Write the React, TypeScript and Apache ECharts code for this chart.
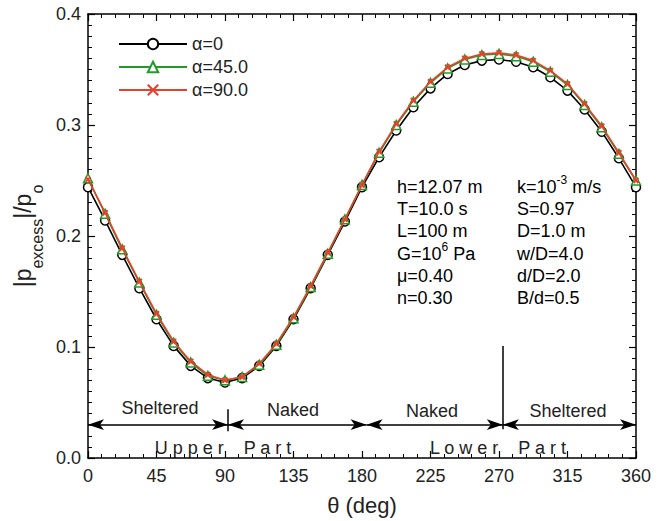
import React, { useEffect, useRef } from "react";
import * as echarts from "echarts";

const theta = [0, 11.25, 22.5, 33.75, 45, 56.25, 67.5, 78.75, 90, 101.25, 112.5, 123.75, 135, 146.25, 157.5, 168.75, 180, 191.25, 202.5, 213.75, 225, 236.25, 247.5, 258.75, 270, 281.25, 292.5, 303.75, 315, 326.25, 337.5, 348.75, 360];

const alpha0 = [0.244, 0.214, 0.183, 0.153, 0.125, 0.101, 0.083, 0.072, 0.068, 0.072, 0.083, 0.101, 0.125, 0.153, 0.183, 0.213, 0.244, 0.271, 0.295, 0.316, 0.333, 0.346, 0.354, 0.358, 0.359, 0.357, 0.352, 0.343, 0.331, 0.314, 0.294, 0.270, 0.244];
const alpha45 = [0.252, 0.220, 0.188, 0.158, 0.129, 0.104, 0.086, 0.074, 0.070, 0.073, 0.084, 0.102, 0.126, 0.154, 0.184, 0.215, 0.246, 0.275, 0.300, 0.321, 0.338, 0.351, 0.359, 0.363, 0.364, 0.362, 0.357, 0.348, 0.336, 0.318, 0.298, 0.274, 0.250];
const alpha90 = [0.251, 0.221, 0.189, 0.159, 0.130, 0.105, 0.087, 0.075, 0.070, 0.073, 0.085, 0.103, 0.127, 0.155, 0.185, 0.215, 0.246, 0.276, 0.301, 0.322, 0.339, 0.352, 0.360, 0.364, 0.365, 0.363, 0.358, 0.349, 0.337, 0.319, 0.299, 0.275, 0.250];

const seriesNames = ["α=0", "α=45.0", "α=90.0"];
const xTicks = { min: 0, max: 360, interval: 45 };
const yTicks = { min: 0, max: 0.4, interval: 0.1 };

// annotation arrows (theta ranges at level y=0.03)
const arrowLevel = 0.03;
const arrowRanges = [[0, 92], [92, 183], [183, 272.5], [272.5, 360]];
const dividers = [[92, 0.024, 0.044], [272.5, 0.026, 0.101]];

const paramsLeft = ["{a|h=12.07 m}", "{a|T=10.0 s}", "{a|L=100 m}", "{a|G=10}{p|6}{a| Pa}", "{a|μ=0.40}", "{a|n=0.30}"];
const paramsRight = ["{a|k=10}{p|-3}{a| m/s}", "{a|S=0.97}", "{a|D=1.0 m}", "{a|w/D=4.0}", "{a|d/D=2.0}", "{a|B/d=0.5}"];

const FONT = "'Liberation Sans', Arial, Helvetica, sans-serif";

export default function App() {
  const ref = useRef<HTMLDivElement>(null);
  useEffect(() => {
    if (!ref.current) return;
    const chart = echarts.init(ref.current, null, { renderer: "svg" });
    const axisCommon = {
      type: "value" as const,
      axisLine: { show: true, onZero: false, lineStyle: { color: "#000", width: 1.5 } },
      axisTick: { show: true, inside: true, length: 7, lineStyle: { color: "#000", width: 1.2 } },
      minorTick: { show: true, length: 4, lineStyle: { color: "#000", width: 1 } },
      splitLine: { show: false },
      minorSplitLine: { show: false },
    };
    const rich = {
      a: { fontSize: 18, fontFamily: FONT, color: "#222", lineHeight: 22, verticalAlign: "bottom" },
      p: { fontSize: 12, fontFamily: FONT, color: "#222", lineHeight: 22, verticalAlign: "top" },
    };
    const graphics: any[] = [];
    const ys = [185, 207, 229, 252, 274, 296];
    paramsLeft.forEach((t, i) => {
      graphics.push({ type: "text", x: 397, y: ys[i], silent: true, style: { text: t, rich, verticalAlign: "middle", align: "left" } });
    });
    paramsRight.forEach((t, i) => {
      graphics.push({ type: "text", x: 517, y: ys[i], silent: true, style: { text: t, rich, verticalAlign: "middle", align: "left" } });
    });
    const labels: [string, number, number][] = [
      ["Sheltered", 160, 408],
      ["Naked", 293, 410],
      ["Naked", 432, 411],
      ["Sheltered", 568, 411],
      ["U p p e r    P a r t", 223, 448],
      ["L o w e r    P a r t", 498, 448],
    ];
    labels.forEach(([t, x, y]) => {
      graphics.push({ type: "text", x, y, silent: true, style: { text: t, fontSize: 18, fontFamily: FONT, fill: "#222", align: "center", verticalAlign: "middle" } });
    });

    chart.setOption({
      animation: false,
      textStyle: { fontFamily: FONT },
      grid: { left: 88, right: 25, top: 14, bottom: 60, containLabel: false },
      legend: {
        data: seriesNames,
        orient: "vertical",
        left: 113,
        top: 30,
        itemWidth: 68,
        itemHeight: 13,
        itemGap: 5,
        textStyle: { fontSize: 18, color: "#222", fontFamily: FONT },
        selectedMode: false,
      },
      xAxis: [
        {
          ...axisCommon,
          position: "bottom",
          ...xTicks,
          minorTick: { ...axisCommon.minorTick, splitNumber: 5 },
          axisLabel: { fontSize: 18, color: "#222", margin: 9, fontFamily: FONT },
          name: "θ (deg)",
          nameLocation: "middle",
          nameGap: 36,
          nameTextStyle: { fontSize: 22, color: "#222", fontFamily: FONT },
        },
        {
          ...axisCommon,
          position: "top",
          ...xTicks,
          minorTick: { ...axisCommon.minorTick, splitNumber: 5 },
          axisLabel: { show: false },
        },
      ],
      yAxis: [
        {
          ...axisCommon,
          position: "left",
          ...yTicks,
          minorTick: { ...axisCommon.minorTick, splitNumber: 10 },
          axisLabel: { fontSize: 18, color: "#222", margin: 7, fontFamily: FONT, formatter: (v: number) => v.toFixed(1) },
          name: "{m||p}{s|excess}{m||/p}{s|o}",
          nameLocation: "middle",
          nameRotate: 90,
          nameGap: 36,
          nameTextStyle: {
            rich: {
              m: { fontSize: 23, fontFamily: FONT, color: "#222", lineHeight: 26, verticalAlign: "top" },
              s: { fontSize: 16, fontFamily: FONT, color: "#222", lineHeight: 34, verticalAlign: "bottom" },
            },
          },
        },
        {
          ...axisCommon,
          position: "right",
          ...yTicks,
          minorTick: { ...axisCommon.minorTick, splitNumber: 10 },
          axisLabel: { show: false },
        },
      ],
      series: [
        {
          name: seriesNames[0],
          type: "line",
          data: theta.map((t, i) => [t, alpha0[i]]),
          symbol: "circle",
          symbolSize: 9,
          lineStyle: { color: "#000", width: 1.6 },
          itemStyle: { color: "#fff", borderColor: "#000", borderWidth: 1.5 },
          z: 3,
        },
        {
          name: seriesNames[1],
          type: "line",
          data: theta.map((t, i) => [t, alpha45[i]]),
          symbol: "triangle",
          symbolSize: 9,
          lineStyle: { color: "#22992a", width: 1.6 },
          itemStyle: { color: "#fff", borderColor: "#22992a", borderWidth: 1.5 },
          z: 4,
        },
        {
          name: seriesNames[2],
          type: "line",
          data: theta.map((t, i) => [t, alpha90[i]]),
          symbol: "path://M0,0L10,10M10,0L0,10",
          symbolSize: 5,
          lineStyle: { color: "#e8402a", width: 1.6 },
          itemStyle: { color: "#e8402a", borderColor: "#e8402a", borderWidth: 2 },
          z: 5,
        },
        {
          name: "arrows",
          type: "line",
          data: [],
          silent: true,
          markLine: {
            silent: true,
            animation: false,
            symbol: ["arrow", "arrow"],
            symbolSize: [8, 16],
            label: { show: false },
            emphasis: { disabled: true },
            lineStyle: { color: "#000", width: 1.5, type: "solid" },
            data: arrowRanges.map(([a, b]) => [{ coord: [a, arrowLevel] }, { coord: [b, arrowLevel] }]),
          },
        },
        {
          name: "dividers",
          type: "line",
          data: [],
          silent: true,
          markLine: {
            silent: true,
            animation: false,
            symbol: ["none", "none"],
            label: { show: false },
            emphasis: { disabled: true },
            lineStyle: { color: "#000", width: 1.5, type: "solid" },
            data: dividers.map(([x, y0, y1]) => [{ coord: [x, y0] }, { coord: [x, y1] }]),
          },
        },
      ],
      graphic: graphics,
    });
    return () => chart.dispose();
  }, []);
  return <div ref={ref} style={{ width: 661, height: 521, position: "absolute", left: 0, top: 0, background: "#fff" }} />;
}
